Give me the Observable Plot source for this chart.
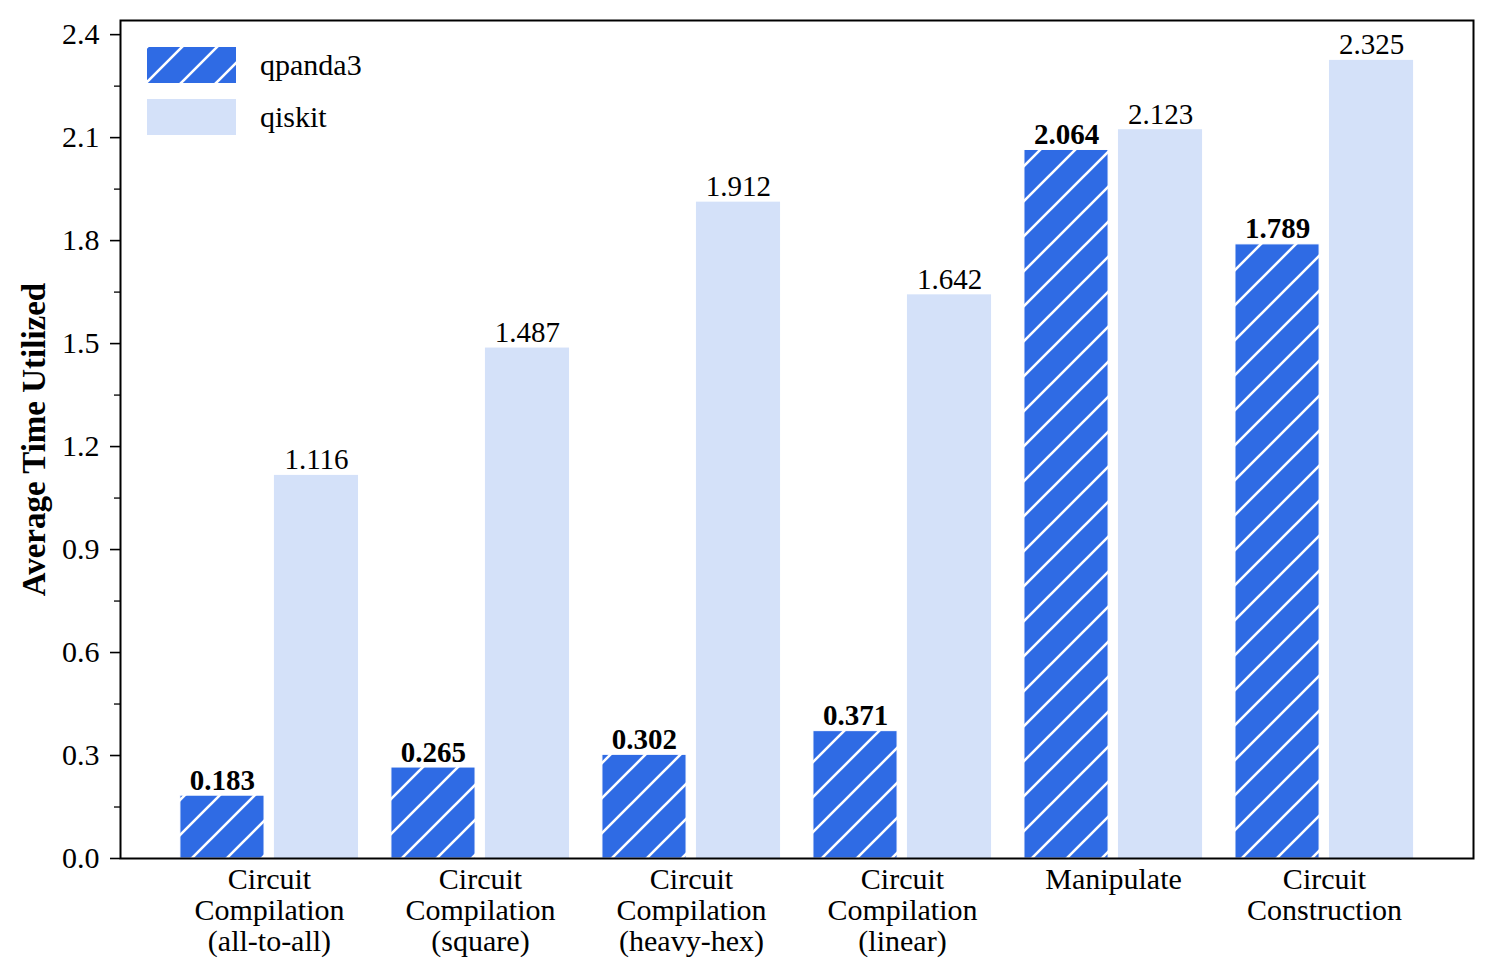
<!DOCTYPE html>
<html>
<head>
<meta charset="utf-8">
<script src="https://cdn.jsdelivr.net/npm/d3@7"></script>
<script src="https://cdn.jsdelivr.net/npm/@observablehq/plot@0.6"></script>
<style>
  html, body { margin: 0; padding: 0; background: white; }
  #wrap { position: relative; width: 1495px; height: 979px; font-family: "Liberation Serif", "Times New Roman", serif; }
  #legend { position: absolute; left: 147px; top: 39px; font-size: 30px; color: black; }
  .item { display: flex; align-items: center; height: 52px; }
  .item svg { display: block; margin-right: 24px; }
</style>
</head>
<body>
<svg width="0" height="0" style="position:absolute">
  <defs>
    <pattern id="hatch" patternUnits="userSpaceOnUse" width="35" height="35">
      <rect width="35" height="35" fill="#2f6be4"></rect>
      <path d="M-5,5 L5,-5 M0,35 L35,0 M30,40 L40,30" stroke="white" stroke-width="2.6"></path>
    </pattern>
  </defs>
</svg>
<div id="wrap">
  <div id="chart"></div>
  <div id="legend"></div>
</div>
<script>
const categories = [
  "Circuit\nCompilation\n(all-to-all)",
  "Circuit\nCompilation\n(square)",
  "Circuit\nCompilation\n(heavy-hex)",
  "Circuit\nCompilation\n(linear)",
  "Manipulate",
  "Circuit\nConstruction"
];
const seriesNames = ["qpanda3", "qiskit"];
const qpanda3 = [0.183, 0.265, 0.302, 0.371, 2.064, 1.789];
const qiskit = [1.116, 1.487, 1.912, 1.642, 2.123, 2.325];
const yTicks = [0, 0.3, 0.6, 0.9, 1.2, 1.5, 1.8, 2.1, 2.4];
const yMinorTicks = [0.15, 0.45, 0.75, 1.05, 1.35, 1.65, 1.95, 2.25];

const colors = { qpanda3: "url(#hatch)", qiskit: "#d4e1f9" };

const qpData = categories.map((c, i) => ({ category: c, series: "qpanda3", value: qpanda3[i] }));
const qkData = categories.map((c, i) => ({ category: c, series: "qiskit", value: qiskit[i] }));

const BAND = 178, BAR = 84, OFF = (BAND - BAR) / 2;

const chart = Plot.plot({
  width: 1495,
  height: 979,
  marginLeft: 120,
  marginRight: 22,
  marginTop: 20,
  marginBottom: 121,
  style: { fontFamily: "Liberation Serif, Times New Roman, serif", fontSize: "30px", color: "black", background: "white", overflow: "visible" },
  x: { domain: categories, paddingInner: 0.156, paddingOuter: 0.284, round: false, axis: null },
  y: { domain: [0, 2.4412], axis: null },
  marks: [
    Plot.barY(qpData, { x: "category", y: "value", fill: colors.qpanda3, insetRight: BAND - BAR, stroke: "white", strokeWidth: 1 }),
    Plot.barY(qkData, { x: "category", y: "value", fill: colors.qiskit, insetLeft: BAND - BAR }),
    Plot.text(qpData, { x: "category", y: "value", text: d => d.value.toFixed(3), dx: -OFF, dy: -6, lineAnchor: "bottom", fontWeight: "bold", fontSize: 29 }),
    Plot.text(qkData, { x: "category", y: "value", text: d => d.value.toFixed(3), dx: OFF, dy: -6, lineAnchor: "bottom", fontSize: 29 }),
    Plot.axisY(yTicks, { tickSize: 10, tickPadding: 11, tickFormat: d3.format(".1f"), strokeWidth: 1.6, label: null, fontSize: 30 }),
    Plot.axisY(yMinorTicks, { tickSize: 6, tickFormat: () => "", strokeWidth: 1.3, label: null }),
    Plot.axisX({ tickSize: 0, tickPadding: 9, lineHeight: 1.03, label: null, fontSize: 30 }),
    Plot.text(["Average Time Utilized"], { frameAnchor: "left", textAnchor: "middle", rotate: -90, dx: -86, fontWeight: "bold", fontSize: 33 }),
    Plot.frame({ stroke: "black", strokeWidth: 2 })
  ]
});
document.getElementById("chart").appendChild(chart);

const legend = document.getElementById("legend");
for (const s of seriesNames) {
  const item = document.createElement("div");
  item.className = "item";
  item.innerHTML = `<svg width="89" height="36"><rect width="89" height="36" fill="${colors[s]}"></rect></svg><span>${s}</span>`;
  legend.appendChild(item);
}
</script>
</body>
</html>
